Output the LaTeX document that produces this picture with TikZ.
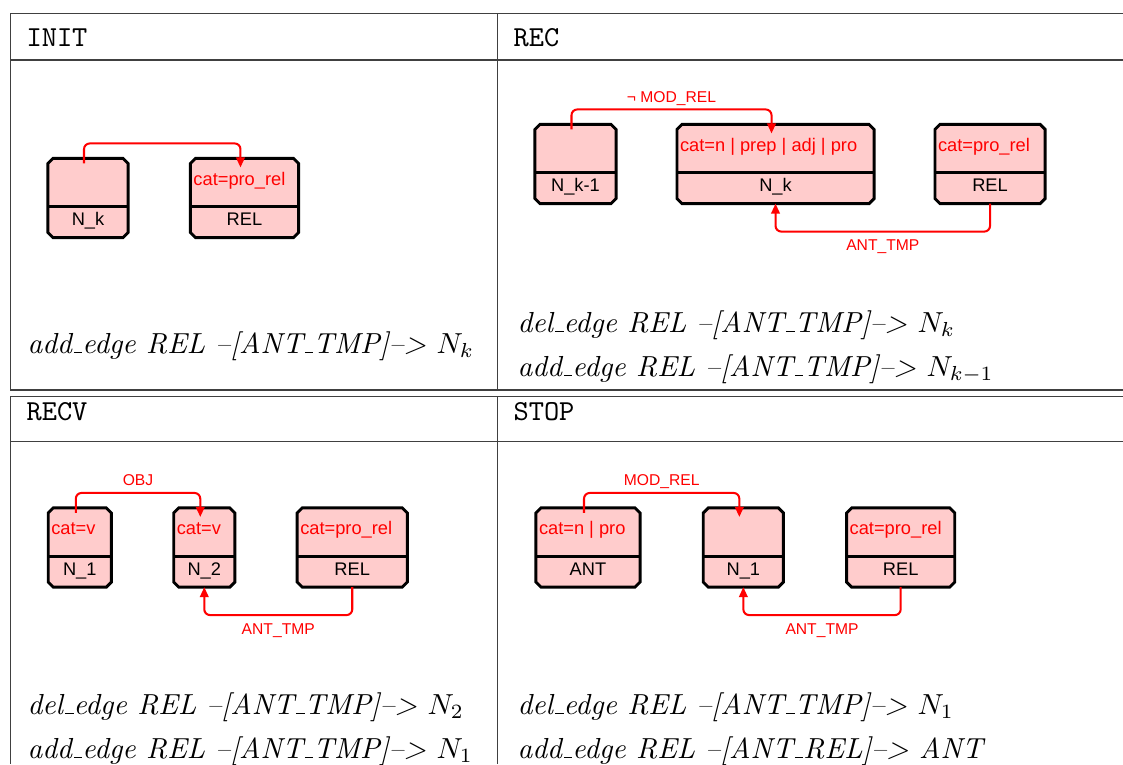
\documentclass[tikz,border=0pt]{standalone}
\usepackage{fontspec}
\newfontfamily\boxfont{Liberation Sans}
\usepackage{tikz}
\usetikzlibrary{positioning, arrows.meta, calc}
\definecolor{boxpink}{HTML}{FFCCCC}
\definecolor{edgered}{HTML}{FF0000}
\def\pxu{0.345pt}
% short underscore for the operation lines
\newcommand{\us}{\kern.06em\vbox{\hrule width.3em}}

\tikzset{
  fsbox/.style={rectangle, draw=none, minimum height=78*\pxu, inner sep=0pt},
  boxline/.style={draw=black, fill=boxpink, line width=1pt},
  divline/.style={draw=black, line width=1pt},
  cattxt/.style={anchor=base west, inner sep=0pt, text=edgered,
        font=\boxfont\fontsize{6.3}{7}\selectfont},
  idtxt/.style={anchor=base, inner sep=0pt,
        font=\boxfont\fontsize{6.3}{7}\selectfont},
  relarrow/.style={draw=edgered, line width=0.7pt, rounded corners=2pt,
        -{Triangle[length=3.5pt, width=3pt]}},
  edgelbl/.style={text=edgered, inner sep=0pt, text depth=0pt,
        font=\boxfont\fontsize{5.4}{6}\selectfont},
  rule/.style={draw=black!75, line width=0.4pt},
  head/.style={anchor=base west, inner sep=0pt, font=\ttfamily},
  op/.style={anchor=base west, inner sep=0pt}
}

% box with divider: name, placement, width (px), category, identifier
\newcommand{\fsbox}[5]{%
  \node[fsbox, minimum width=#3*\pxu, #2] (#1) {};
  \filldraw[boxline] ($(#1.north west)+(5,0)$) -- ($(#1.north east)+(-5,0)$)
    -- ($(#1.north east)+(0,5)$) -- ($(#1.south east)+(0,-5)$)
    -- ($(#1.south east)+(-5,0)$) -- ($(#1.south west)+(5,0)$)
    -- ($(#1.south west)+(0,-5)$) -- ($(#1.north west)+(0,5)$) -- cycle;
  \draw[divline] ($(#1.north west)+(0,48.5)$) -- ($(#1.north east)+(0,48.5)$);
  \node[cattxt] (#1-cat) at ($(#1.north west)+(2.5,27)$) {#4};
  \node[idtxt] (#1-id) at ($(#1.south)+(0,-12)$) {#5};
}

\begin{document}
\begin{tikzpicture}[x=\pxu, y=-\pxu]
  \useasboundingbox (0,0) rectangle (1123,764);

  % table frames
  \draw[rule] (1123,13.3) -- (10.3,13.3) -- (10.3,390) -- (1123,390);
  \draw[rule] (10.3,60) -- (1123,60);
  \draw[rule] (497.3,13.3) -- (497.3,390);
  \draw[rule] (1123,396.7) -- (10.3,396.7) -- (10.3,764);
  \draw[rule] (10.3,441.7) -- (1123,441.7);
  \draw[rule] (497.3,396.7) -- (497.3,764);

  \node[head] (hinit) at (26,46.7) {INIT};
  \node[head] (hrec) at (513,46.7) {REC};
  \node[head] (hrecv) at (26,420) {RECV};
  \node[head] (hstop) at (513,420) {STOP};

  % INIT
  \fsbox{ink}{at={(88,198)}}{79}{}{N\_k}
  \fsbox{irel}{right=21.5pt of ink}{107}{cat=pro\_rel}{REL}
  \draw[relarrow] ($(ink.north)+(-4,5)$) -- ++(0,-20) -| ($(irel.north)+(-4,9)$);

  % REC
  \fsbox{rnkm}{at={(575.5,164)}}{80}{}{N\_k-1}
  \fsbox{rnk}{right=21pt of rnkm}{196}{cat=n | prep | adj | pro}{N\_k}
  \fsbox{rrel}{right=21pt of rnk}{109}{cat=pro\_rel}{REL}
  \draw[relarrow] ($(rnkm.north)+(-4,5)$) -- ++(0,-20)
    -| node[pos=0.25, above=2.2pt, edgelbl] {¬ MOD\_REL} ($(rnk.north)+(-4,9)$);
  \draw[relarrow] (rrel.south) -- ++(0,28)
    -| node[pos=0.25, below=2.6pt, edgelbl] {ANT\_TMP} (rnk.south);

  % RECV
  \fsbox{vn1}{at={(79.8,547.5)}}{62}{cat=v}{N\_1}
  \fsbox{vn2}{right=21.5pt of vn1}{60}{cat=v}{N\_2}
  \fsbox{vrel}{right=21.5pt of vn2}{109}{cat=pro\_rel}{REL}
  \draw[relarrow] ($(vn1.north)+(-4,5)$) -- ++(0,-20)
    -| node[pos=0.25, above=2.2pt, edgelbl] {OBJ} ($(vn2.north)+(-4,9)$);
  \draw[relarrow] (vrel.south) -- ++(0,28)
    -| node[pos=0.25, below=2.6pt, edgelbl] {ANT\_TMP} (vn2.south);

  % STOP
  \fsbox{sant}{at={(588,547.5)}}{103}{cat=n | pro}{ANT}
  \fsbox{sn1}{right=21.8pt of sant}{79}{}{N\_1}
  \fsbox{srel}{right=21.8pt of sn1}{107}{cat=pro\_rel}{REL}
  \draw[relarrow] ($(sant.north)+(-4,5)$) -- ++(0,-20)
    -| node[pos=0.25, above=2.2pt, edgelbl] {MOD\_REL} ($(sn1.north)+(-4,9)$);
  \draw[relarrow] (srel.south) -- ++(0,28)
    -| node[pos=0.25, below=2.6pt, edgelbl] {ANT\_TMP} (sn1.south);

  % operations
  \node[op] (oinit) at (27,353) {\textit{add\us edge REL --[ANT\us TMP]--> }$N_k$};
  \node[op] (orec1) at (517,332) {\textit{del\us edge REL --[ANT\us TMP]--> }$N_k$};
  \node[op] (orec2) at (517,376) {\textit{add\us edge REL --[ANT\us TMP]--> }$N_{k-1}$};
  \node[op] (orecv1) at (27,714) {\textit{del\us edge REL --[ANT\us TMP]--> }$N_2$};
  \node[op] (orecv2) at (27,758) {\textit{add\us edge REL --[ANT\us TMP]--> }$N_1$};
  \node[op] (ostop1) at (517,714) {\textit{del\us edge REL --[ANT\us TMP]--> }$N_1$};
  \node[op] (ostop2) at (517,758) {\textit{add\us edge REL --[ANT\us REL]--> ANT}};
\end{tikzpicture}
\end{document}
